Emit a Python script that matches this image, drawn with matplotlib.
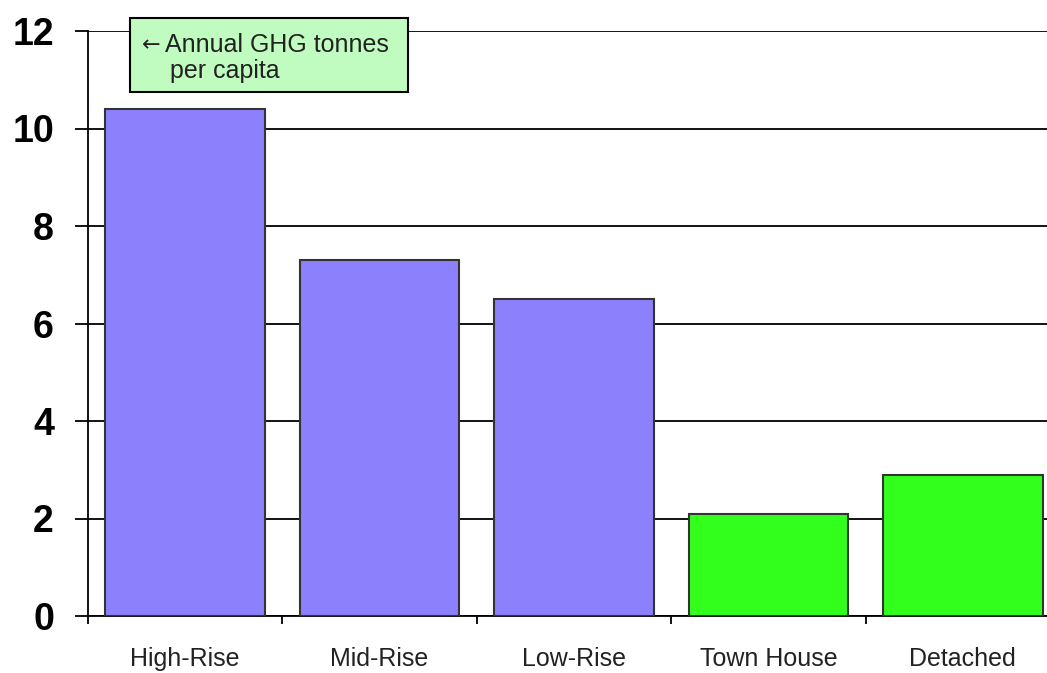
import matplotlib.pyplot as plt
import matplotlib.patches as patches
import numpy as np

plt.rcParams['font.family'] = ['Liberation Sans', 'DejaVu Sans']

categories = ['High-Rise', 'Mid-Rise', 'Low-Rise', 'Town House', 'Detached']
ghg_per_capita = [10.4, 7.3, 6.5, 2.1, 2.9]
bar_colors = ['#8c80fc', '#8c80fc', '#8c80fc', '#33ff1c', '#33ff1c']
y_ticks = [0, 2, 4, 6, 8, 10, 12]

fig = plt.figure(figsize=(10.47, 6.73), dpi=100)
ax = fig.add_axes([88 / 1047, 57 / 673, 972 / 1047, 585 / 673])

x = np.arange(len(categories))
ax.bar(x, ghg_per_capita, width=0.82, color=bar_colors, edgecolor='#333333',
       linewidth=1.5, zorder=3)

ax.set_xlim(-0.5, len(categories) - 0.5)
ax.set_ylim(0, 12)
ax.set_yticks(y_ticks)
ax.set_yticklabels([str(v) for v in y_ticks], fontsize=27, fontweight='bold')
ax.yaxis.grid(True, color='black', linewidth=1.3, zorder=0)
ax.set_axisbelow(True)

ax.set_xticks(x)
ax.set_xticklabels(categories, fontsize=18, color='#222222')
ax.set_xticks(np.arange(len(categories) + 1) - 0.5, minor=True)
ax.tick_params(axis='x', which='major', length=0, pad=22)
ax.tick_params(axis='x', which='minor', length=6, width=1.3, direction='out')
ax.tick_params(axis='y', length=9.5, width=1.3, pad=15, direction='out')

for side in ['top', 'right']:
    ax.spines[side].set_visible(False)
ax.spines['left'].set_linewidth(1.3)
ax.spines['bottom'].set_linewidth(1.3)

# label box in the top-left corner
box = patches.Rectangle((130 / 1047, 1 - 92 / 673), 278 / 1047, 74 / 673,
                        transform=fig.transFigure, facecolor='#c0fcc0',
                        edgecolor='black', linewidth=1.5, zorder=5)
fig.patches.append(box)
fig.text(142 / 1047, 1 - 51 / 673, '\u2190', fontsize=16, family=['DejaVu Sans'],
         va='baseline', ha='left', color='#222222', zorder=6)
fig.text(165 / 1047, 1 - 52 / 673, 'Annual GHG tonnes', fontsize=18,
         va='baseline', ha='left', color='#222222', zorder=6)
fig.text(170 / 1047, 1 - 78 / 673, 'per capita', fontsize=18,
         va='baseline', ha='left', color='#222222', zorder=6)

fig.savefig('out.png', dpi=100)
